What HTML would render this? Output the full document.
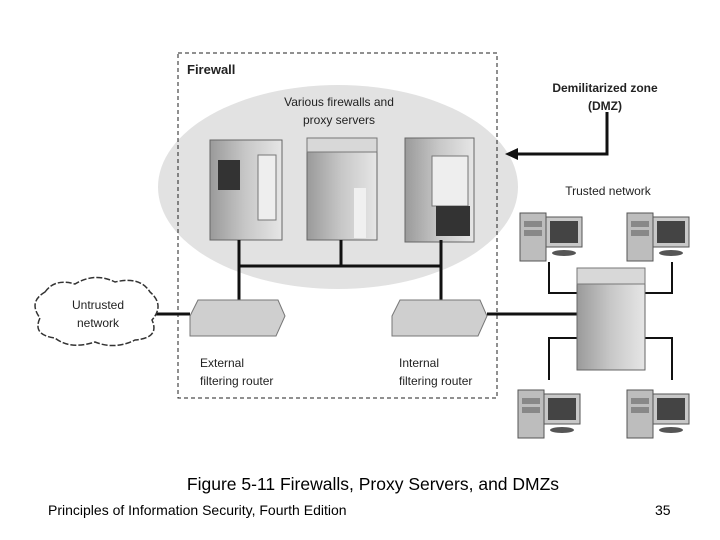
<!DOCTYPE html>
<html><head><style>
body{margin:0;width:720px;height:540px;background:#fff;overflow:hidden;font-family:"Liberation Sans",sans-serif}
svg{position:absolute;left:0;top:0}
</style></head><body>
<svg width="720" height="540" viewBox="0 0 720 540" font-family="Liberation Sans, sans-serif">
<defs>
<linearGradient id="tw" x1="0" x2="1"><stop offset="0" stop-color="#9a9a9a"/><stop offset="0.5" stop-color="#c8c8c8"/><stop offset="1" stop-color="#e6e6e6"/></linearGradient>
<g id="pc">
<rect x="0" y="8" width="26" height="48" fill="#bdbdbd" stroke="#555"/>
<rect x="4" y="16" width="18" height="6" fill="#888"/>
<rect x="4" y="25" width="18" height="6" fill="#888"/>
<rect x="26" y="12" width="36" height="30" fill="#c8c8c8" stroke="#555"/>
<rect x="30" y="16" width="28" height="22" fill="#444"/>
<ellipse cx="44" cy="48" rx="12" ry="3" fill="#555"/>
</g>
</defs>
<ellipse cx="338" cy="187" rx="180" ry="102" fill="#e2e2e2"/>
<rect x="178" y="53" width="319" height="345" fill="none" stroke="#222" stroke-dasharray="4,3"/>
<text x="187" y="74" font-size="13" font-weight="bold" fill="#222">Firewall</text>
<text x="339" y="106" font-size="12" text-anchor="middle" fill="#222">Various firewalls and</text>
<text x="339" y="124" font-size="12" text-anchor="middle" fill="#222">proxy servers</text>
<rect x="210" y="140" width="72" height="100" fill="url(#tw)" stroke="#666"/>
<rect x="218" y="160" width="22" height="30" fill="#333"/>
<rect x="258" y="155" width="18" height="65" fill="#eee" stroke="#777"/>
<rect x="307" y="138" width="70" height="102" fill="url(#tw)" stroke="#666"/>
<rect x="307" y="138" width="70" height="14" fill="#d8d8d8" stroke="#777"/>
<rect x="354" y="188" width="12" height="50" fill="#f0f0f0"/>
<rect x="405" y="138" width="69" height="104" fill="url(#tw)" stroke="#666"/>
<rect x="432" y="156" width="36" height="50" fill="#eee" stroke="#777"/>
<rect x="436" y="206" width="34" height="30" fill="#333"/>
<g stroke="#111" stroke-width="3" fill="none">
<path d="M239 240V300M341 240V266M441 240V300M239 266H441"/>
<path d="M155 314H190M487 314H577"/>
<path d="M607 112V154H515"/>
</g>
<path d="M505 154L518 148V160Z" fill="#111"/>
<g stroke="#111" stroke-width="2" fill="none">
<path d="M549 262V293H577M672 262V293H645M549 380V338H577M672 380V338H645"/>
</g>
<path d="M198 300L278 300L285 316L276 336L190 336L190 316Z" fill="#cfcfcf" stroke="#777"/>
<path d="M400 300L480 300L487 316L478 336L392 336L392 316Z" fill="#cfcfcf" stroke="#777"/>
<path d="M45 292Q55 278 75 284Q95 272 115 282Q140 276 150 292Q165 305 152 320Q160 338 135 340Q115 350 95 342Q70 350 55 338Q32 335 40 318Q28 302 45 292Z" fill="#fff" stroke="#333" stroke-width="1.5" stroke-dasharray="6,2"/>
<text x="98" y="309" font-size="12" text-anchor="middle" fill="#222">Untrusted</text>
<text x="98" y="327" font-size="12" text-anchor="middle" fill="#222">network</text>
<text x="200" y="367" font-size="12" fill="#222">External</text>
<text x="200" y="385" font-size="12" fill="#222">filtering router</text>
<text x="399" y="367" font-size="12" fill="#222">Internal</text>
<text x="399" y="385" font-size="12" fill="#222">filtering router</text>
<text x="605" y="92" font-size="12" font-weight="bold" text-anchor="middle" fill="#222">Demilitarized zone</text>
<text x="605" y="110" font-size="12" font-weight="bold" text-anchor="middle" fill="#222">(DMZ)</text>
<text x="608" y="195" font-size="12" text-anchor="middle" fill="#222">Trusted network</text>
<rect x="577" y="268" width="68" height="102" fill="url(#tw)" stroke="#666"/>
<rect x="577" y="268" width="68" height="16" fill="#d8d8d8" stroke="#777"/>
<use href="#pc" x="520" y="205"/>
<use href="#pc" x="627" y="205"/>
<use href="#pc" x="518" y="382"/>
<use href="#pc" x="627" y="382"/>
<text x="373" y="490" font-size="17.5" text-anchor="middle" fill="#000">Figure 5-11 Firewalls, Proxy Servers, and DMZs</text>
<text x="48" y="515" font-size="14" fill="#000">Principles of Information Security, Fourth Edition</text>
<text x="655" y="515" font-size="14" fill="#000">35</text>
</svg>
</body></html>
